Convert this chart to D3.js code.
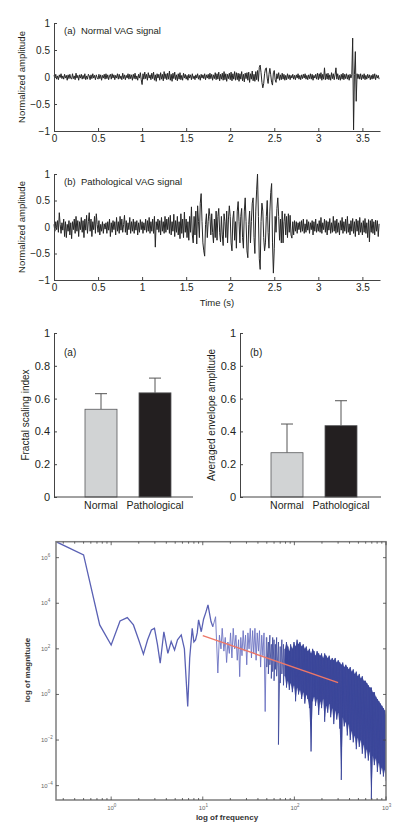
<!DOCTYPE html>
<html>
  <head>
    <meta charset="UTF-8">
    <title>VAG signals</title>
    <script src="https://d3js.org/d3.v7.min.js"></script>
    <style>
      body { margin: 0; background: #fff; }
      svg { display: block; font-family: "Liberation Sans", Arial, sans-serif; }
    </style>
  </head>
  <body>
    <svg width="420" height="840"></svg>

    <script>

// ---------- VAG signals (one sample every 0.01 s) ----------
const sampleStep = 0.01;
const timeTicks = [0, 0.5, 1, 1.5, 2, 2.5, 3, 3.5];
const ampTicks = [-1, -0.5, 0, 0.5, 1];

const normalSignal = [
  0.03,-0.02,0.05,-0.04,0.02,-0.05,0.04,-0.01,0.06,-0.03,
  0.02,-0.04,0.05,-0.02,0.03,-0.06,0.04,-0.03,0.05,-0.02,
  -0.04,0.06,-0.03,0.02,-0.05,0.07,-0.02,0.03,-0.06,0.04,
  -0.02,0.05,-0.04,0.03,-0.03,0.06,-0.05,0.02,-0.04,0.05,
  0.02,-0.05,0.04,-0.03,0.06,-0.02,0.03,-0.05,0.04,-0.01,
  -0.04,0.05,-0.03,0.04,-0.06,0.03,-0.02,0.05,-0.04,0.06,
  -0.03,0.04,-0.05,0.02,0.05,-0.04,0.06,-0.02,0.04,-0.05,
  0.03,-0.02,0.06,-0.04,0.05,-0.03,0.02,-0.05,0.07,-0.03,
  0.04,-0.05,0.03,-0.02,0.06,-0.04,0.05,-0.03,0.04,-0.06,
  0.05,-0.03,0.07,-0.04,0.02,-0.06,0.05,-0.02,0.08,-0.05,
  -0.14,0.06,-0.04,0.09,-0.03,0.05,-0.06,0.08,-0.02,0.04,
  -0.05,0.07,-0.03,0.09,-0.06,0.04,-0.08,0.06,-0.02,0.05,
  -0.06,0.08,-0.04,0.05,-0.07,0.1,-0.03,0.06,-0.05,0.07,
  -0.04,0.11,-0.06,0.05,-0.08,0.07,-0.03,0.09,-0.05,0.04,
  -0.07,0.06,-0.04,0.08,-0.05,0.03,-0.06,0.07,-0.02,0.05,
  -0.04,0.03,-0.06,0.05,-0.02,0.04,-0.05,0.06,-0.03,0.02,
  -0.05,0.04,-0.02,0.06,-0.04,0.03,-0.06,0.05,-0.02,0.04,
  -0.03,0.06,-0.05,0.04,-0.02,0.05,-0.04,0.07,-0.03,0.05,
  -0.06,0.04,-0.03,0.08,-0.05,0.06,-0.04,0.09,-0.07,0.05,
  -0.04,0.07,-0.06,0.1,-0.05,0.06,-0.08,0.05,-0.03,0.07,
  -0.05,0.09,-0.07,0.06,-0.04,0.1,-0.06,0.08,-0.05,0.07,
  -0.08,0.06,-0.04,0.1,-0.07,0.05,-0.09,0.07,-0.03,0.08,
  -0.06,0.09,-0.1,0.06,-0.04,0.11,-0.07,0.05,-0.08,0.1,
  -0.05,0.12,-0.08,0.18,0.22,0.08,-0.1,-0.2,-0.12,0.06,
  0.15,0.17,-0.02,-0.12,0.05,0.16,0.04,-0.1,-0.15,0.08,
  0.12,-0.05,-0.1,0.06,-0.03,0.08,-0.06,0.04,-0.05,0.07,
  -0.04,0.05,-0.06,0.03,-0.05,0.06,-0.03,0.04,-0.05,0.03,
  -0.02,0.05,-0.04,0.03,-0.05,0.04,-0.02,0.06,-0.04,0.03,
  -0.05,0.04,-0.03,0.05,-0.02,0.06,-0.04,0.03,-0.05,0.04,
  -0.03,0.06,-0.04,0.05,-0.06,0.03,-0.02,0.05,-0.04,0.07,
  -0.05,0.06,-0.03,0.08,-0.06,0.05,-0.04,0.17,-0.05,0.06,
  -0.04,0.07,-0.05,0.04,-0.06,0.08,-0.03,0.06,-0.05,0.04,
  0.17,-0.04,0.06,-0.05,0.03,-0.06,0.05,-0.04,0.07,-0.05,
  0.05,-0.03,0.06,-0.04,0.04,-0.06,0.05,-0.02,0.04,0.72,
  -0.98,0.05,0.47,-0.45,0.06,-0.03,0.05,-0.04,0.06,-0.05,
  0.04,-0.03,0.06,-0.05,0.03,-0.04,0.05,-0.02,0.04,-0.05,
  0.03,-0.04,0.05,-0.03,0.06,-0.05,0.04,-0.02,0.03,-0.04
];

const pathSignal = [
  0.05,-0.08,0.1,-0.05,0.12,-0.1,0.27,0.05,-0.12,0.08,
  -0.06,0.15,-0.18,0.1,-0.2,0.05,-0.08,0.12,-0.15,0.08,
  -0.22,0.1,-0.05,0.15,-0.12,0.2,-0.08,0.12,-0.18,0.1,
  -0.05,0.18,-0.1,0.12,-0.2,0.15,-0.06,0.22,-0.12,0.1,
  0.27,-0.08,0.15,-0.18,0.1,-0.05,0.2,-0.12,0.25,0.05,
  -0.1,0.12,-0.15,0.05,-0.08,0.1,-0.12,0.06,-0.04,0.08,
  -0.12,0.1,-0.06,0.15,-0.18,0.08,-0.1,0.12,-0.05,0.1,
  -0.15,0.18,-0.08,0.1,-0.12,0.2,-0.06,0.15,-0.1,0.05,
  0.22,-0.1,0.12,-0.15,0.08,-0.05,0.18,-0.12,0.1,-0.08,
  0.15,-0.12,0.1,-0.06,0.12,-0.15,0.08,-0.1,0.14,-0.05,
  0.1,-0.12,0.08,-0.06,0.15,-0.1,0.12,-0.08,0.18,-0.12,
  0.1,-0.08,0.15,-0.12,0.2,-0.38,0.1,-0.05,0.15,-0.1,
  0.12,-0.15,0.18,-0.08,0.1,-0.12,0.2,-0.1,0.15,-0.05,
  0.18,-0.12,0.22,-0.15,0.1,-0.08,0.24,-0.18,0.12,-0.1,
  0.2,-0.15,0.1,-0.22,0.25,-0.12,0.15,-0.2,0.28,-0.1,
  0.15,-0.2,0.1,-0.25,0.2,-0.1,0.38,-0.15,-0.3,0.2,
  -0.15,0.3,-0.32,0.4,0.1,-0.2,0.45,0.63,0.1,-0.3,
  -0.45,-0.55,0.05,0.25,-0.2,0.1,0.35,0.2,-0.15,0.25,
  -0.1,-0.3,0.15,-0.2,0.3,-0.25,0.2,0.35,-0.1,-0.28,
  0.2,-0.15,-0.35,0.25,0.1,-0.2,0.3,-0.3,0.15,0.4,
  0.2,-0.3,-0.45,0.15,0.3,-0.25,0.1,-0.4,0.3,0.48,
  0.1,-0.3,0.2,0.35,-0.2,-0.4,0.3,0.55,0.1,-0.45,
  -0.58,0.05,0.3,-0.3,0.1,0.45,0.55,-0.2,-0.5,0.3,
  0.7,1.0,0.2,-0.6,-0.8,0.1,0.45,0.3,-0.2,-0.45,
  -0.3,0.2,0.5,-0.1,-0.4,0.3,0.65,0.82,-0.3,-0.87,
  -0.4,0.2,-0.1,0.35,0.55,0.2,-0.25,0.15,-0.3,0.3,
  -0.3,0.1,0.25,-0.15,0.2,-0.2,0.25,-0.1,0.22,-0.15,
  -0.21,0.1,-0.15,0.12,-0.08,0.1,-0.12,0.08,-0.05,0.1,
  -0.1,0.12,-0.08,0.15,-0.12,0.06,-0.1,0.14,-0.06,0.1,
  -0.12,0.08,-0.05,0.12,-0.15,0.1,-0.08,0.15,-0.1,0.06,
  -0.08,0.12,-0.1,0.18,-0.12,0.08,-0.05,0.15,-0.1,0.12,
  -0.15,0.1,-0.06,0.16,-0.12,0.08,-0.1,0.2,-0.08,0.12,
  -0.12,0.15,-0.1,0.08,-0.15,0.12,-0.06,0.18,-0.12,0.1,
  -0.08,0.15,-0.12,0.2,-0.1,0.06,-0.15,0.12,-0.08,0.16,
  -0.12,0.1,-0.18,0.15,-0.08,0.12,-0.15,0.18,-0.1,0.08,
  -0.15,0.12,-0.1,0.16,-0.12,0.08,-0.2,0.14,-0.28,0.12,
  -0.1,0.15,-0.12,0.1,-0.15,0.13,-0.08,0.12,-0.18,0.06
];

// ---------- bar charts ----------
const groups = ["Normal", "Pathological"];
const barColors = ["#d1d3d4", "#231f20"];
const fractalMean = [0.535, 0.635];
const fractalErr = [0.095, 0.09];
const envMean = [0.27, 0.435];
const envErr = [0.175, 0.152];
const barTicks = [0, 0.2, 0.4, 0.6, 0.8, 1];

// ---------- spectrum (log10 of magnitude) ----------
const specFreq = [0.25,0.5,0.75,1,1.25,1.5,1.75,2,2.25,2.5,
  2.75,2.97,3.2,3.43,3.76,4.16,4.52,4.92,5.3,5.82,
  6.3,6.85,7.2,7.67,8.0,8.34,8.7,9.0,9.63,10.2,
  10.8,11.4,12.3,12.9,13.8,14.6,15.2,15.8,16.3,17,
  17.6,18.2,18.8,19.5,20.1,20.8,21.5,22.3,23,23.8,
  24.6,25.3,26,26.8,27.6,28.4,29.3,30.2,31.1,32,
  33,34,35,36,37.1,38.2,39.3,40.5,41.6,42.8,
  44,45.3,46.6,48,49.4];
const specLogMag = [6.70,6.12,3.05,2.17,3.22,3.37,3.05,2.39,1.77,2.40,
  2.83,2.90,2.2,1.37,2.75,1.80,2.32,1.95,2.4,2.61,
  2.0,-0.53,1.6,2.9,2.3,2.39,2.7,3.27,2.75,3.3,
  3.6,3.93,3.2,2.97,3.41,0.94,2.6,2.0,2.9,1.9,
  2.5,1.4,2.3,1.8,2.7,1.6,2.9,2.0,2.6,1.5,
  2.4,0.78,2.5,1.7,2.8,1.9,2.6,1.3,2.7,2.0,
  2.9,1.6,2.8,1.8,2.9,1.5,2.7,1.9,2.8,1.2,
  2.6,1.7,2.7,-0.75,2.5];

// dense high-frequency part: upper and lower swing at each frequency
const bandFreq = [50,52,54,56,58,60,62,64,67,70,
  73,76,79,82,85,88,91,95,99,103,
  107,111,115,120,125,130,135,140,146,152,
  158,164,170,177,184,191,198,206,214,222,
  231,240,249,259,269,279,290,301,313,325,
  337,350,364,378,392,407,423,439,456,474,
  492,511,531,551,572,594,617,641,666,692,
  718,746,775,805,836,868,902,937,973,1000];
const bandHigh = [2.5,2.3,2.6,2.2,2.5,2.4,2.2,2.5,2.3,2.1,
  2.4,2.2,2.0,2.3,2.1,1.9,2.2,2.0,2.3,2.1,
  2.4,2.2,2.3,2.1,2.2,2.0,2.1,1.9,2.0,1.8,
  2.0,1.9,1.7,1.9,1.8,1.7,1.8,1.6,1.8,1.7,
  1.6,1.7,1.5,1.6,1.5,1.6,1.4,1.5,1.4,1.3,
  1.4,1.2,1.3,1.2,1.1,1.2,1.0,1.1,0.9,1.0,
  0.8,0.9,0.7,0.8,0.6,0.6,0.5,0.4,0.3,0.3,
  0.1,0.1,-0.1,-0.2,-0.3,-0.4,-0.5,-0.6,-0.7,-0.9];
const bandLow = [1.2,0.9,1.3,0.7,1.0,0.6,1.1,0.8,-2.2,0.5,
  0.9,0.4,0.8,0.3,0.6,0.2,0.5,0.1,0.4,-0.3,
  0.3,0.0,0.2,-0.2,0.1,-0.4,0.0,-0.2,-0.6,-2.5,
  -0.3,-0.1,-0.5,-0.2,-0.9,-0.3,-0.6,-0.2,-1.2,-0.5,
  -0.8,-0.4,-1.0,-0.6,-1.3,-0.7,-1.1,-0.8,-1.5,-3.75,
  -1.0,-1.4,-1.2,-1.8,-1.3,-2.0,-1.6,-2.1,-1.8,-2.4,
  -1.9,-2.3,-2.0,-2.6,-2.2,-2.8,-2.4,-2.9,-2.5,-4.6,
  -2.7,-3.1,-2.8,-3.4,-3.0,-3.5,-3.2,-3.6,-3.3,-3.8];

const fitFreq = [10, 300];
const fitLogMag = [2.58, 0.52];
const freqDecades = [0, 1, 2, 3];
const magDecades = [6, 4, 2, 0, -2, -4];

const svg = d3.select("svg");
svg.append("rect").attr("width", 420).attr("height", 840).attr("fill", "#fff");
const ink = "#231f20";
const plainNum = d3.format("");

// ---------- signal panels ----------
const tx = d3.scaleLinear().domain([0, 3.7]).range([54, 380]);

function drawSignal(values, top, bottom, label, withTitle) {
  const y = d3.scaleLinear().domain([-1, 1]).range([bottom, top]);
  const g = svg.append("g");

  g.append("path")
    .datum(values)
    .attr("fill", "none")
    .attr("stroke", "#262626")
    .attr("stroke-width", 1)
    .attr("stroke-linejoin", "round")
    .attr("d", d3.line().x((d, i) => tx(i * sampleStep)).y(d => y(d)));

  const ya = g.append("g")
    .attr("transform", "translate(54,0)")
    .call(d3.axisLeft(y).tickValues(ampTicks).tickFormat(plainNum)
      .tickSize(-3).tickSizeOuter(0).tickPadding(4));
  const xa = g.append("g")
    .attr("transform", `translate(0,${bottom})`)
    .call(d3.axisBottom(tx).tickValues(timeTicks).tickFormat(plainNum)
      .tickSize(-3).tickSizeOuter(0).tickPadding(4));
  [ya, xa].forEach(a => {
    a.attr("font-family", null).attr("font-size", 10);
    a.select(".domain").attr("stroke", "#444");
    a.selectAll(".tick line").attr("stroke", "#444");
    a.selectAll("text").attr("fill", ink);
  });

  g.append("text")
    .attr("x", 64).attr("y", top + 11)
    .attr("font-size", 9.5).attr("fill", ink)
    .attr("xml:space", "preserve")
    .text(label);

  g.append("text")
    .attr("transform", `translate(25,${(top + bottom) / 2}) rotate(-90)`)
    .attr("text-anchor", "middle")
    .attr("font-size", 9.5).attr("fill", ink)
    .text("Normalized amplitude");

  if (withTitle) {
    g.append("text")
      .attr("x", (54 + 380) / 2).attr("y", bottom + 26)
      .attr("text-anchor", "middle")
      .attr("font-size", 9.5).attr("fill", ink)
      .text("Time (s)");
  }
}

drawSignal(normalSignal, 23, 131, "(a)  Normal VAG signal", false);
drawSignal(pathSignal, 174, 280, "(b)  Pathological VAG signal", true);

// ---------- bar panels ----------
function drawBars(means, errs, left, right, tag, title) {
  const y = d3.scaleLinear().domain([0, 1]).range([497, 333]);
  const x = d3.scaleBand().domain(groups)
    .range([left + 20, left + 128])
    .paddingInner(0.4074).paddingOuter(0.2037);
  const g = svg.append("g");

  // error bars (upper half only)
  g.selectAll(".err")
    .data(groups)
    .join("path")
    .attr("fill", "none")
    .attr("stroke", "#555")
    .attr("stroke-width", 1)
    .attr("d", (d, i) => {
      const cx = x(d) + x.bandwidth() / 2;
      const top = y(means[i] + errs[i]);
      return `M${cx},${y(means[i])}V${top}M${cx - 6},${top}H${cx + 6}`;
    });

  g.selectAll("rect.bar")
    .data(groups)
    .join("rect")
    .attr("x", d => x(d))
    .attr("width", x.bandwidth())
    .attr("y", (d, i) => y(means[i]))
    .attr("height", (d, i) => y(0) - y(means[i]))
    .attr("fill", (d, i) => barColors[i])
    .attr("stroke", "#58595b")
    .attr("stroke-width", 0.8);

  const ya = g.append("g")
    .attr("transform", `translate(${left},0)`)
    .call(d3.axisLeft(y).tickValues(barTicks).tickFormat(plainNum)
      .tickSize(-3).tickSizeOuter(0).tickPadding(4));
  ya.attr("font-family", null).attr("font-size", 11);
  ya.select(".domain").attr("stroke", "#444");
  ya.selectAll(".tick line").attr("stroke", "#444");
  ya.selectAll("text").attr("fill", ink);

  g.append("line")
    .attr("x1", left).attr("x2", right)
    .attr("y1", y(0)).attr("y2", y(0))
    .attr("stroke", "#444");

  g.selectAll(".cat")
    .data(groups)
    .join("text")
    .attr("x", d => x(d) + x.bandwidth() / 2)
    .attr("y", 509)
    .attr("text-anchor", "middle")
    .attr("font-size", 10.5).attr("fill", ink)
    .text(d => d);

  g.append("text")
    .attr("x", left + 10).attr("y", 356)
    .attr("font-size", 10).attr("fill", ink)
    .text(tag);

  g.append("text")
    .attr("transform", `translate(${left - 25},415) rotate(-90)`)
    .attr("text-anchor", "middle")
    .attr("font-size", 10).attr("fill", ink)
    .text(title);
}

drawBars(fractalMean, fractalErr, 54, 193, "(a)", "Fractal scaling index");
drawBars(envMean, envErr, 240, 381, "(b)", "Averaged envelope amplitude");

// ---------- spectrum panel ----------
const fx = d3.scaleLog().domain([0.25, 1000]).range([56, 386]);
const fy = d3.scaleLog().domain([Math.pow(10, -4.63), Math.pow(10, 6.7)]).range([800, 541.7]);
const sp = svg.append("g");

svg.append("clipPath").attr("id", "specClip")
  .append("rect").attr("x", 56).attr("y", 541.7).attr("width", 330).attr("height", 258.3);

const plot = sp.append("g").attr("clip-path", "url(#specClip)");
const specLine = d3.line().x(d => fx(d[0])).y(d => fy(Math.pow(10, d[1])));

const lowPts = specFreq.map((f, i) => [f, specLogMag[i]]);
const bandPts = bandFreq.flatMap((f, i) => [[f, bandHigh[i]], [f, bandLow[i]]]);

plot.append("path")
  .datum(lowPts.filter(d => d[0] <= 12.9))
  .attr("fill", "none").attr("stroke", "#5a61b4").attr("stroke-width", 1.3)
  .attr("d", specLine);
plot.append("path")
  .datum(lowPts.filter(d => d[0] >= 12.9).concat(bandPts.slice(0, 1)))
  .attr("fill", "none").attr("stroke", "#6c73c2").attr("stroke-width", 0.9)
  .attr("d", specLine);

// the densely packed part (above ~80 Hz) reads as a filled band
plot.append("path")
  .datum(bandFreq.map((f, i) => i).filter(i => bandFreq[i] >= 79))
  .attr("fill", "#26328f").attr("fill-opacity", 0.85)
  .attr("d", d3.area()
    .x(i => fx(bandFreq[i]))
    .y0(i => fy(Math.pow(10, bandLow[i])))
    .y1(i => fy(Math.pow(10, bandHigh[i]))));
plot.append("path")
  .datum(bandPts)
  .attr("fill", "none").attr("stroke", "#3a4599").attr("stroke-width", 0.8)
  .attr("d", specLine);

plot.append("path")
  .datum(fitFreq.map((f, i) => [f, fitLogMag[i]]))
  .attr("fill", "none").attr("stroke", "#ee7767").attr("stroke-width", 1.4)
  .attr("d", specLine);

// frame
sp.append("rect")
  .attr("x", 56).attr("y", 541.7).attr("width", 330).attr("height", 258.3)
  .attr("fill", "none").attr("stroke", "#7d7d7d").attr("stroke-width", 1.5);

// ticks on the frame
const minorFreq = [];
[-1, 0, 1, 2].forEach(e => d3.range(2, 10).forEach(k => {
  const v = k * Math.pow(10, e);
  if (v > 0.25 && v < 1000) minorFreq.push(v);
}));
const majorFreq = freqDecades.map(e => Math.pow(10, e));
[541.7, 800].forEach((yy, j) => {
  const dir = j === 0 ? 1 : -1;
  sp.selectAll(null).data(minorFreq).join("line")
    .attr("x1", d => fx(d)).attr("x2", d => fx(d))
    .attr("y1", yy).attr("y2", yy + dir * 2)
    .attr("stroke", "#444").attr("stroke-width", 0.8);
  sp.selectAll(null).data(majorFreq).join("line")
    .attr("x1", d => fx(d)).attr("x2", d => fx(d))
    .attr("y1", yy).attr("y2", yy + dir * 3.5)
    .attr("stroke", "#444").attr("stroke-width", 0.8);
});
[56, 386].forEach((xx, j) => {
  const dir = j === 0 ? 1 : -1;
  sp.selectAll(null).data(magDecades).join("line")
    .attr("x1", xx).attr("x2", xx + dir * 3)
    .attr("y1", d => fy(Math.pow(10, d))).attr("y2", d => fy(Math.pow(10, d)))
    .attr("stroke", "#444").attr("stroke-width", 0.8);
});

// power-of-ten labels
function powLabel(sel, exp) {
  sel.append("tspan").text("10");
  sel.append("tspan").attr("dy", -3).attr("font-size", 4.5).text(plainNum(exp));
}
magDecades.forEach(e => {
  sp.append("text")
    .attr("x", 41).attr("y", fy(Math.pow(10, e)) + 2)
    .attr("font-size", 6).attr("fill", "#666")
    .call(powLabel, e);
});
freqDecades.forEach(e => {
  sp.append("text")
    .attr("x", fx(Math.pow(10, e)) - 4).attr("y", 810)
    .attr("font-size", 6).attr("fill", "#666")
    .call(powLabel, e);
});

sp.append("text")
  .attr("x", 227).attr("y", 820)
  .attr("text-anchor", "middle")
  .attr("font-size", 8).attr("font-weight", "bold").attr("fill", "#333")
  .text("log of frequency");
sp.append("text")
  .attr("transform", "translate(30,670) rotate(-90)")
  .attr("text-anchor", "middle")
  .attr("font-size", 8).attr("font-weight", "bold").attr("fill", "#333")
  .text("log of magnitude");

    </script>
  </body>
</html>
